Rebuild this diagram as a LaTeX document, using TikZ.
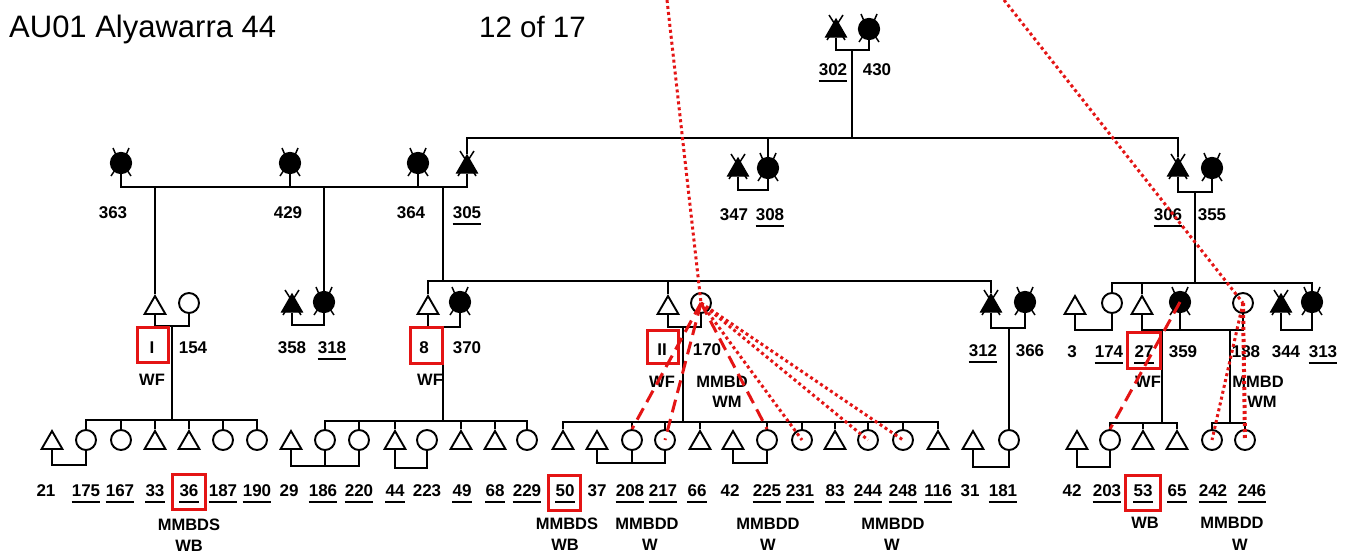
\documentclass[tikz,border=0pt]{standalone}
\usepackage{fontspec}
\setmainfont{Liberation Sans}
\usetikzlibrary{shapes.geometric}
\definecolor{rd}{RGB}{228,20,20}
\tikzset{
 ln/.style={line width=1.7pt, black},
 xl/.style={line width=1.5pt, black},
 msym/.style={regular polygon, regular polygon sides=3, draw, line width=1.9pt, minimum size=24pt, inner sep=0pt},
 fsym/.style={circle, draw, line width=1.9pt, minimum size=20pt, inner sep=0pt},
 dmsym/.style={regular polygon, regular polygon sides=3, draw, fill=black, line width=1.2pt, minimum size=24pt, inner sep=0pt},
 dfsym/.style={circle, draw, fill=black, line width=1.2pt, minimum size=21pt, inner sep=0pt},
 lab/.style={inner sep=0pt, font=\fontsize{17}{17}\selectfont\bfseries},
 ann/.style={inner sep=0pt, font=\fontsize{16.5}{17}\selectfont\bfseries},
 ttl/.style={inner sep=0pt, font=\fontsize{31}{34}\selectfont},
 ttlb/.style={inner sep=0pt, font=\fontsize{29.5}{34}\selectfont},
 ul/.style={line width=1.6pt, black},
 rbox/.style={draw=rd, line width=3pt, inner sep=0pt},
 rdash/.style={draw=rd, line width=3pt, dash pattern=on 13pt off 7pt},
 rdot/.style={draw=rd, line width=3pt, dash pattern=on 3pt off 3pt},
}
\newcommand{\symM}[2]{\node[msym] (#1) at (#2) {};}
\newcommand{\symF}[2]{\node[fsym] (#1) at (#2) {};}
\newcommand{\symDM}[2]{\node[dmsym] (#1) at (#2) {};
 \draw[xl] ([shift={(-7,-16)}]#1.center) -- ([shift={(9,9)}]#1.center);
 \draw[xl] ([shift={(7,-16)}]#1.center) -- ([shift={(-9,9)}]#1.center);}
\newcommand{\symDF}[2]{\node[dfsym] (#1) at (#2) {};
 \draw[xl] ([shift={(-5,-8)}]#1.center) -- ([shift={(-8,-15)}]#1.center);
 \draw[xl] ([shift={(5,-8)}]#1.center) -- ([shift={(8,-15)}]#1.center);
 \draw[xl] ([shift={(-6,7)}]#1.center) -- ([shift={(-10,13)}]#1.center);
 \draw[xl] ([shift={(6,7)}]#1.center) -- ([shift={(10,13)}]#1.center);}
\newcommand{\lab}[3]{\node[lab] (#1) at (#2) {#3};}
\newcommand{\ulab}[3]{\node[lab] (#1) at (#2) {#3};
 \draw[ul] ([yshift=-5pt]#1.base west) -- ([yshift=-5pt]#1.base east);}
\newcommand{\stem}[2]{\draw[ln] (#1.north) -- (#1.north |- #2);}
\newcommand{\stemdn}[2]{\draw[ln] (#1.south) -- (#1.south |- #2);}
\begin{document}
\begin{tikzpicture}[x=1pt,y=-1pt]
\useasboundingbox[fill=white] (0,0) rectangle (1352,555);
% title
\node[ttl, anchor=base west] (t1) at (9,37) {AU01 Alyawarra 44};
\node[ttlb, anchor=base west] (t2) at (479,37) {12 of 17};

% ---------- row 1
\symDM{n302}{836,31}
\symDF{n430}{869,29}
\coordinate (c302) at (852,50);
\coordinate (g1) at (852,138);
\draw[ln] (n302.south) |- (c302) -| (n430.south);
\draw[ln] (c302) -- (g1);
\ulab{l302}{833,70}{302}
\lab{l430}{877,70}{430}

% ---------- row 2
\symDF{n363}{121,163}
\symDF{n429}{290,163}
\symDF{n364}{418,163}
\symDM{n305}{467,167}
\symDM{n347}{738,170}
\symDF{n308}{768,168}
\symDM{n306}{1178,170}
\symDF{n355}{1212,168}
\draw[ln] (n305.north) |- (g1) -| (n306.north);
\stem{n308}{g1}
\coordinate (j1) at (155,187);
\coordinate (j2) at (324,187);
\coordinate (j3) at (443,187);
\draw[ln] (n363.south) |- (j1) -- (j2) -- (j3) -| (n305.south);
\stemdn{n429}{j1}
\stemdn{n364}{j1}
\coordinate (c347) at (753,190);
\draw[ln] (n347.south) |- (c347) -| (n308.south);
\coordinate (c306) at (1195,192);
\draw[ln] (n306.south) |- (c306) -| (n355.south);
\lab{l363}{113,213}{363}
\lab{l429}{288,213}{429}
\lab{l364}{411,213}{364}
\ulab{l305}{467,213}{305}
\lab{l347}{734,215}{347}
\ulab{l308}{770,215}{308}
\ulab{l306}{1168,215}{306}
\lab{l355}{1212,215}{355}

% ---------- row 3
\symM{n1}{155,308}
\symF{n154}{189,303}
\symDM{n358}{292,306}
\symDF{n318}{324,302}
\symM{n8}{428,308}
\symDF{n370}{460,302}
\symM{n11}{668,308}
\symF{n170}{701,303}
\symDM{n312}{991,306}
\symDF{n366}{1025,302}
\symM{n3}{1075,308}
\symF{n174}{1112,303}
\symM{n27}{1142,308}
\symDF{n359}{1180,302}
\symF{n188}{1243,303}
\symDM{n344}{1281,306}
\symDF{n313}{1312,302}
\draw[ln] (j1) -- (n1.north);
\draw[ln] (j2) -- (n318.north);
\coordinate (g2) at (443,281);
\draw[ln] (j3) -- (g2);
\draw[ln] (n8.north) |- (g2) -| (n312.north);
\stem{n11}{g2}
\coordinate (g3) at (1195,283);
\draw[ln] (c306) -- (g3);
\draw[ln] (n174.north) |- (g3) -| (n313.north);
\stem{n27}{g3}
\coordinate (c1) at (172,326);
\draw[ln] (n1.south) |- (c1) -| (n154.south);
\coordinate (c358) at (308,325);
\draw[ln] (n358.south) |- (c358) -| (n318.south);
\coordinate (c8) at (443,327);
\draw[ln] (n8.south) |- (c8) -| (n370.south);
\coordinate (c11) at (683,327);
\draw[ln] (n11.south) |- (c11) -| (n170.south);
\coordinate (c312) at (1009,328);
\draw[ln] (n312.south) |- (c312) -| (n366.south);
\coordinate (c3) at (1093,330);
\draw[ln] (n3.south) |- (c3) -| (n174.south);
\coordinate (c27a) at (1162,330);
\coordinate (c27b) at (1230,330);
\draw[ln] (n27.south) |- (c27a) -- (c27b) -| (n188.south);
\stemdn{n359}{c27a}
\coordinate (c344) at (1296,330);
\draw[ln] (n344.south) |- (c344) -| (n313.south);
\lab{l1}{152,348}{I}
\lab{l154}{193,348}{154}
\lab{l358}{292,348}{358}
\ulab{l318}{332,348}{318}
\lab{l8}{424,348}{8}
\lab{l370}{467,348}{370}
\lab{l11}{662,350}{II}
\lab{l170}{707,350}{170}
\ulab{l312}{983,351}{312}
\lab{l366}{1030,351}{366}
\lab{l3}{1072,352}{3}
\ulab{l174}{1109,352}{174}
\ulab{l27}{1144,352}{27}
\lab{l359}{1183,352}{359}
\lab{l188}{1246,352}{188}
\lab{l344}{1286,352}{344}
\ulab{l313}{1323,352}{313}
\node[ann] (a1) at (152,380) {WF};
\node[ann] (a8) at (430,380) {WF};
\node[ann] (a11) at (662,382) {WF};
\node[ann] (a170) at (722,382) {MMBD};
\node[ann] (a170b) at (727,402) {WM};
\node[ann] (a27) at (1148,382) {WF};
\node[ann] (a188) at (1258,382) {MMBD};
\node[ann] (a188b) at (1262,402) {WM};

% ---------- row 4
\symM{n21}{52,443}
\symF{n175}{86,440}
\symF{n167}{121,440}
\symM{n33}{155,443}
\symM{n36}{189,443}
\symF{n187}{223,440}
\symF{n190}{257,440}
\symM{n29}{291,443}
\symF{n186}{325,440}
\symF{n220}{359,440}
\symM{n44}{395,443}
\symF{n223}{427,440}
\symM{n49}{461,443}
\symM{n68}{495,443}
\symF{n229}{527,440}
\symM{n50}{563,443}
\symM{n37}{597,443}
\symF{n208}{632,440}
\symF{n217}{665,440}
\symM{n66}{700,443}
\symM{n42a}{733,443}
\symF{n225}{767,440}
\symF{n231}{802,440}
\symM{n83}{835,443}
\symF{n244}{868,440}
\symF{n248}{903,440}
\symM{n116}{938,443}
\symM{n31}{973,443}
\symF{n181}{1009,440}
\symM{n42b}{1077,443}
\symF{n203}{1110,440}
\symM{n53}{1143,443}
\symM{n65}{1177,443}
\symF{n242}{1212,440}
\symF{n246}{1245,440}
% descent lines
\coordinate (g4) at (172,420);
\draw[ln] (c1) -- (g4);
\draw[ln] (n175.north) |- (g4) -| (n190.north);
\stem{n167}{g4} \stem{n33}{g4} \stem{n36}{g4} \stem{n187}{g4}
\coordinate (g5) at (443,421);
\draw[ln] (c8) -- (g5);
\draw[ln] (n186.north) |- (g5) -| (n229.north);
\stem{n220}{g5} \stem{n44}{g5} \stem{n49}{g5} \stem{n68}{g5}
\coordinate (g6) at (683,422);
\draw[ln] (c11) -- (g6);
\draw[ln] (n50.north) |- (g6) -| (n116.north);
\stem{n208}{g6} \stem{n217}{g6} \stem{n66}{g6} \stem{n225}{g6}
\stem{n231}{g6} \stem{n83}{g6} \stem{n244}{g6} \stem{n248}{g6}
\draw[ln] (c312) -- (n181.north);
\coordinate (g7) at (1162,423);
\draw[ln] (c27a) -- (g7);
\draw[ln] (n203.north) |- (g7) -| (n65.north);
\stem{n53}{g7}
\coordinate (g8) at (1230,423);
\draw[ln] (c27b) -- (g8);
\draw[ln] (n242.north) |- (g8) -| (n246.north);
% couples row 4
\coordinate (c21) at (69,465);
\draw[ln] (n21.south) |- (c21) -| (n175.south);
\coordinate (c29) at (325,466);
\draw[ln] (n29.south) |- (c29) -| (n220.south);
\stemdn{n186}{c29}
\coordinate (c44) at (411,468);
\draw[ln] (n44.south) |- (c44) -| (n223.south);
\coordinate (c37) at (632,463);
\draw[ln] (n37.south) |- (c37) -| (n217.south);
\stemdn{n208}{c37}
\coordinate (c42) at (750,463);
\draw[ln] (n42a.south) |- (c42) -| (n225.south);
\coordinate (c31) at (990,467);
\draw[ln] (n31.south) |- (c31) -| (n181.south);
\coordinate (c42b) at (1093,467);
\draw[ln] (n42b.south) |- (c42b) -| (n203.south);
% labels row 4
\lab{l21}{46,491}{21}
\ulab{l175}{86,491}{175}
\ulab{l167}{120,491}{167}
\ulab{l33}{155,491}{33}
\ulab{l36}{189,491}{36}
\ulab{l187}{223,491}{187}
\ulab{l190}{257,491}{190}
\lab{l29}{289,491}{29}
\ulab{l186}{323,491}{186}
\ulab{l220}{359,491}{220}
\ulab{l44}{395,491}{44}
\lab{l223}{427,491}{223}
\ulab{l49}{462,491}{49}
\ulab{l68}{495,491}{68}
\ulab{l229}{527,491}{229}
\ulab{l50}{565,491}{50}
\lab{l37}{597,491}{37}
\ulab{l208}{630,491}{208}
\ulab{l217}{663,491}{217}
\ulab{l66}{697,491}{66}
\lab{l42a}{730,491}{42}
\ulab{l225}{767,491}{225}
\ulab{l231}{800,491}{231}
\ulab{l83}{835,491}{83}
\ulab{l244}{868,491}{244}
\ulab{l248}{903,491}{248}
\ulab{l116}{938,491}{116}
\lab{l31}{970,491}{31}
\ulab{l181}{1003,491}{181}
\lab{l42b}{1072,491}{42}
\ulab{l203}{1107,491}{203}
\ulab{l53}{1143,491}{53}
\ulab{l65}{1177,491}{65}
\ulab{l242}{1213,491}{242}
\ulab{l246}{1252,491}{246}
\node[ann] (a36) at (189,525) {MMBDS};
\node[ann] (a36b) at (189,546) {WB};
\node[ann] (a50) at (567,524) {MMBDS};
\node[ann] (a50b) at (565,545) {WB};
\node[ann] (a217) at (647,524) {MMBDD};
\node[ann] (a217b) at (650,545) {W};
\node[ann] (a225) at (768,524) {MMBDD};
\node[ann] (a225b) at (768,545) {W};
\node[ann] (a248) at (893,524) {MMBDD};
\node[ann] (a248b) at (892,545) {W};
\node[ann] (a53) at (1145,523) {WB};
\node[ann] (a246) at (1232,523) {MMBDD};
\node[ann] (a246b) at (1240,545) {W};

% ---------- red overlays
\node[rbox, minimum width=31pt, minimum height=35pt] (b1) at (152.5,344.5) {};
\node[rbox, minimum width=32pt, minimum height=36pt] (b8) at (426,345) {};
\node[rbox, minimum width=31pt, minimum height=33pt] (b11) at (662.5,346.5) {};
\node[rbox, minimum width=33pt, minimum height=36pt] (b27) at (1143.5,350) {};
\node[rbox, minimum width=33pt, minimum height=35pt] (b36) at (188.5,492) {};
\node[rbox, minimum width=32pt, minimum height=35pt] (b50) at (564,492.5) {};
\node[rbox, minimum width=35pt, minimum height=35pt] (b53) at (1142.5,492.5) {};
\coordinate (top1) at (667,0);
\coordinate (top2) at (1004,0);
\draw[rdot] (top1) -- (n170.center);
\draw[rdot] (top2) -- (n188.center);
\draw[rdash] (n170.center) -- (n208.north);
\draw[rdash] (n170.center) -- (n217.center);
\draw[rdash] (n170.center) -- (n225.north);
\draw[rdot] (n170.center) -- (n231.center);
\draw[rdot] (n170.center) -- (n244.center);
\draw[rdot] (n170.center) -- (n248.center);
\draw[rdash] (n359.center) -- (n203.north);
\draw[rdot] (n188.center) -- (n242.center);
\draw[rdot, line width=4pt] (n188.center) -- (n246.center);
\end{tikzpicture}
\end{document}
